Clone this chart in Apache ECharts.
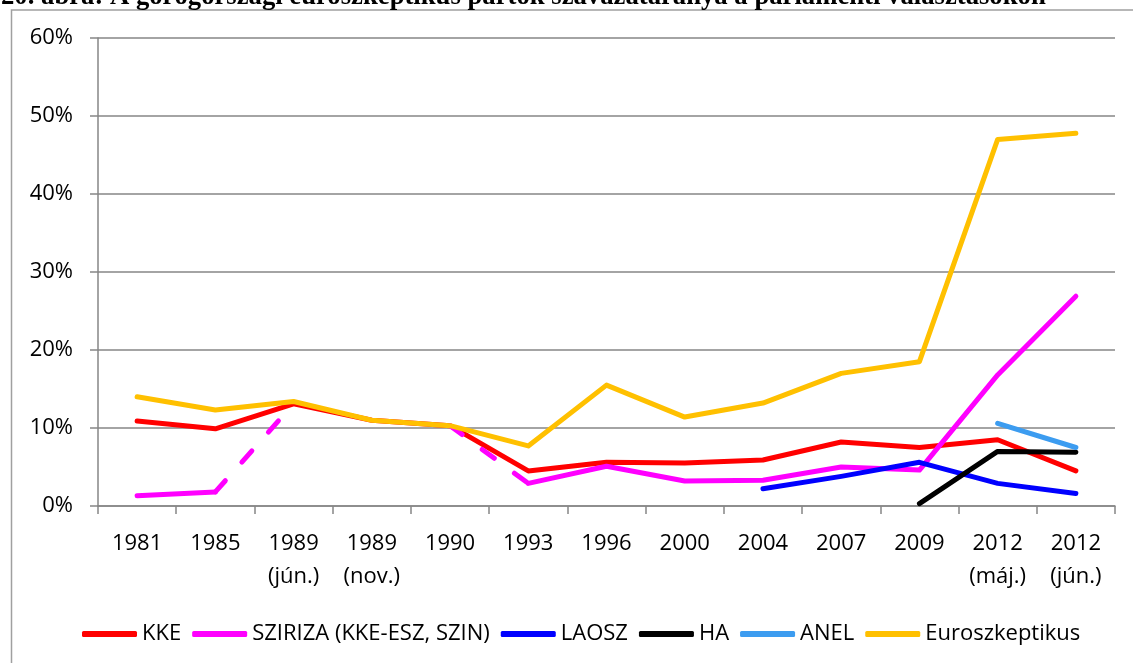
<!DOCTYPE html>
<html>
<head>
<meta charset="utf-8">
<script src="https://cdn.jsdelivr.net/npm/echarts@6/dist/echarts.min.js"></script>
<style>
  html, body { margin: 0; padding: 0; background: #fff; }
  #chart { width: 1133px; height: 663px; }
</style>
</head>
<body>
<div id="chart"></div>
<script>
// választások (kategóriák)
var categories = ['1981', '1985', '1989\n(jún.)', '1989\n(nov.)', '1990', '1993', '1996', '2000', '2004', '2007', '2009', '2012\n(máj.)', '2012\n(jún.)'];
var yTicks = [0, 10, 20, 30, 40, 50, 60];

// szavazatarány, %
var kke = [10.9, 9.9, 13.1, 11.0, 10.3, 4.5, 5.6, 5.5, 5.9, 8.2, 7.5, 8.5, 4.5];
var sziriza = [1.3, 1.8, null, null, null, 2.9, 5.1, 3.2, 3.3, 5.0, 4.6, 16.8, 26.9];
// szaggatott átmenetek (SZIN)
var szirizaAtmenet1 = [null, 1.8, 13.1, null, null, null, null, null, null, null, null, null, null];
var szirizaAtmenet2 = [null, null, null, null, 10.3, 2.9, null, null, null, null, null, null, null];
var laosz = [null, null, null, null, null, null, null, null, 2.2, 3.8, 5.6, 2.9, 1.6];
var ha = [null, null, null, null, null, null, null, null, null, null, 0.3, 7.0, 6.9];
var anel = [null, null, null, null, null, null, null, null, null, null, null, 10.6, 7.5];
var euroszkeptikus = [14.0, 12.3, 13.4, 11.0, 10.3, 7.7, 15.5, 11.4, 13.2, 17.0, 18.5, 47.0, 47.8];

var legendNames = ['KKE', 'SZIRIZA (KKE-ESZ, SZIN)', 'LAOSZ', 'HA', 'ANEL', 'Euroszkeptikus'];

var myChart = echarts.init(document.getElementById('chart'));

function vonal(name, data, color, dashed) {
    return {
        name: name,
        type: 'line',
        data: data,
        symbol: 'none',
        connectNulls: false,
        itemStyle: {color: color},
        lineStyle: {color: color, width: 5, cap: 'round', join: 'round', type: dashed ? [15, 25] : 'solid'}
    };
}

var gray = '#868686';
var font = '"Open Sans", sans-serif';

var option = {
    animation: false,
    backgroundColor: '#fff',
    graphic: [
        {
            type: 'rect',
            shape: {x: 11.5, y: 10, width: 1200, height: 700},
            style: {fill: 'none', stroke: '#a0a0a0', lineWidth: 1.5}
        },
        {
            type: 'text',
            x: 1,
            y: -2.8,
            style: {
                text: '20. ábra: A görögországi euroszkeptikus pártok szavazataránya a parlamenti választásokon',
                font: 'bold 26.7px "Liberation Serif", serif',
                fill: '#000',
                verticalAlign: 'middle'
            }
        }
    ],
    grid: {left: 98, right: 18, top: 38, bottom: 157},
    legend: {
        data: legendNames,
        left: 77,
        top: 614,
        icon: 'roundRect',
        itemWidth: 55,
        itemHeight: 6,
        itemGap: 11,
        textStyle: {fontFamily: font, fontSize: 22, color: '#000', lineHeight: 30}
    },
    xAxis: {
        type: 'category',
        data: categories,
        boundaryGap: true,
        axisLine: {lineStyle: {color: gray, width: 1.5}},
        axisTick: {show: true, interval: 0, length: 8, lineStyle: {color: gray, width: 1.5}},
        axisLabel: {interval: 0, margin: 21, fontFamily: font, fontSize: 22, color: '#000', lineHeight: 33}
    },
    yAxis: {
        type: 'value',
        min: yTicks[0],
        max: yTicks[yTicks.length - 1],
        interval: 10,
        axisLine: {show: true, lineStyle: {color: gray, width: 1.5}},
        axisTick: {show: true, length: 8, lineStyle: {color: gray, width: 1.5}},
        axisLabel: {formatter: '{value}%', margin: 25, fontFamily: font, fontSize: 22, color: '#000'},
        splitLine: {show: true, lineStyle: {color: gray, width: 1.5}}
    },
    series: [
        vonal('KKE', kke, '#FF0000'),
        vonal('SZIRIZA (KKE-ESZ, SZIN)', sziriza, '#FF00FF'),
        vonal('SZIN átmenet 1', szirizaAtmenet1, '#FF00FF', true),
        vonal('SZIN átmenet 2', szirizaAtmenet2, '#FF00FF', true),
        vonal('LAOSZ', laosz, '#0000FF'),
        vonal('HA', ha, '#000000'),
        vonal('ANEL', anel, '#3C9CF0'),
        vonal('Euroszkeptikus', euroszkeptikus, '#FFC000')
    ]
};

myChart.setOption(option);
</script>
</body>
</html>
